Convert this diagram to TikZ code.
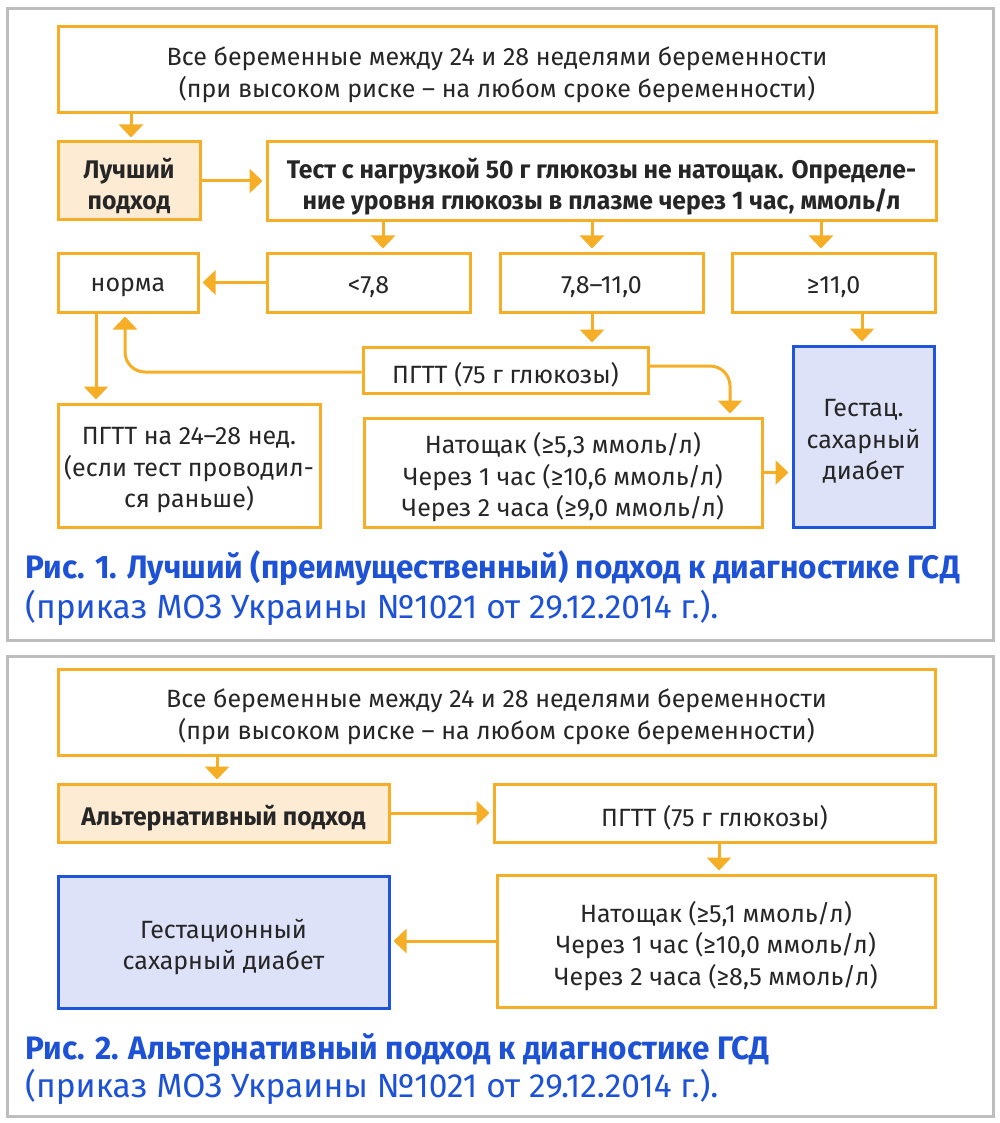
\documentclass[tikz,border=0pt]{standalone}
\usepackage{fontspec}
\setmainfont{Fira Sans}[BoldFeatures={FakeStretch=0.97}]
\usetikzlibrary{arrows.meta}
\definecolor{org}{HTML}{F5AE25}
\definecolor{peach}{HTML}{FDEBD3}
\definecolor{bluebd}{HTML}{1F55DC}
\definecolor{bluefill}{HTML}{DEE2F9}
\definecolor{capblue}{HTML}{1E52D6}
\definecolor{frame}{HTML}{BDBDBD}
\tikzset{
  box/.style={draw=org, line width=3pt, fill=white, inner sep=0pt},
  bestbox/.style={box, fill=peach},
  gestbox/.style={box, draw=bluebd, fill=bluefill},
  txt/.style={align=center, inner sep=0pt, text=black!85, font=\fontsize{25}{31.5}\selectfont},
  txtb/.style={txt, font=\fontsize{25.5}{31.5}\selectfont\bfseries},
  arr/.style={draw=org, line width=3pt, -{Triangle[width=24pt,length=13pt]}, shorten >=3pt},
  panel/.style={draw=frame, line width=3pt},
  caption/.style={anchor=base west, inner sep=0pt, text=capblue, font=\fontsize{33.5}{38}\selectfont},
  captionb/.style={caption, font=\fontsize{32.5}{38}\selectfont\bfseries}
}
% #1 box style, #2 name, #3 x, #4 y, #5 width, #6 height, #7 text style, #8 text
\newcommand\mybox[8]{%
  \node[#1, minimum width=#5pt, minimum height=#6pt] (#2) at (#3,#4) {};
  \node[#7] (#2-t) at ([yshift=-5pt]#2.center) {#8};}
\begin{document}
\begin{tikzpicture}[x=1pt,y=-1pt]
\useasboundingbox (0,0) rectangle (1000,1123);
\fill[white] (0,0) rectangle (1000,1123);
% panels
\draw[panel] (7,9) rectangle (993,640);
\draw[panel] (7,656) rectangle (993,1116);

% ---------- Figure 1 ----------
\mybox{box}{top}{497}{70}{878}{86}{txt}
  {Все беременные между 24 и 28 неделями беременности\\(при высоком риске – на любом сроке беременности)}
\mybox{bestbox}{best}{129}{181}{142}{78}{txtb}{Лучший\\подход}
\mybox{box}{test}{601.5}{181.5}{669}{79}{txtb}
  {Тест с нагрузкой 50 г глюкозы не натощак. Определе-\\ние уровня глюкозы в плазме через 1 час, ммоль/л}
\mybox{box}{norma}{128}{282.5}{140}{59}{txt}{норма}
\mybox{box}{lt}{368.5}{282.5}{203}{59}{txt}{<7,8}
\mybox{box}{mid}{601.5}{282.5}{203}{59}{txt}{7,8–11,0}
\mybox{box}{ge}{833.5}{282.5}{203}{59}{txt}{≥11,0}
\mybox{box}{p24}{189}{465.5}{262}{123}{txt}
  {ПГТТ на 24–28 нед.\\(если тест проводил-\\ся раньше)}
\mybox{box}{pg1}{505.5}{370}{285}{46}{txt}{ПГТТ (75 г глюкозы)}
\mybox{box}{nat1}{563}{472.5}{398}{109}{txt}
  {Натощак (≥5,3 ммоль/л)\\Через 1 час (≥10,6 ммоль/л)\\Через 2 часа (≥9,0 ммоль/л)}
\mybox{gestbox}{gest1}{863.5}{436.5}{141}{181}{txt}
  {Гестац.\\сахарный\\диабет}

\coordinate (xa) at (131,0);
\coordinate (xb) at (383,0);
\coordinate (xc) at (592,0);
\coordinate (xd) at (821,0);
\coordinate (xe) at (96,0);
\coordinate (xf) at (125,0);
\coordinate (xg) at (730,0);
\coordinate (xh) at (862,0);

\draw[arr] (top.south -| xa) -- (best.north -| xa);
\draw[arr] (best.east) -- (test.west |- best.east);
\draw[arr] (test.south -| xb) -- (lt.north -| xb);
\draw[arr] (test.south -| xc) -- (mid.north -| xc);
\draw[arr] (test.south -| xd) -- (ge.north -| xd);
\draw[arr] (lt.west) -- (norma.east);
\draw[arr] (norma.south -| xe) -- (p24.north -| xe);
\draw[arr] (mid.south -| xc) -- (pg1.north -| xc);
\draw[arr, rounded corners=20pt] ([yshift=-2pt]pg1.west) -| (norma.south -| xf);
\draw[arr, rounded corners=20pt] ([yshift=4pt]pg1.east) -| (nat1.north -| xg);
\draw[arr] (nat1.east) -- (gest1.west |- nat1.east);
\draw[arr] (ge.south -| xh) -- (gest1.north -| xh);

\node[captionb] (cap1a) at (25,578) {Рис. 1. Лучший (преимущественный) подход к диагностике ГСД};
\node[caption] (cap1b) at (25,618) {(приказ МОЗ Украины №1021 от 29.12.2014 г.).};

% ---------- Figure 2 ----------
\mybox{box}{top2}{496.5}{712}{877}{86}{txt}
  {Все беременные между 24 и 28 неделями беременности\\(при высоком риске – на любом сроке беременности)}
\mybox{bestbox}{alt}{223.5}{813}{331}{58}{txtb}{Альтернативный подход}
\mybox{box}{pg2}{714.5}{813}{441}{58}{txt}{ПГТТ (75 г глюкозы)}
\mybox{box}{nat2}{716}{941}{438}{132}{txt}
  {Натощак (≥5,1 ммоль/л)\\Через 1 час (≥10,0 ммоль/л)\\Через 2 часа (≥8,5 ммоль/л)}
\mybox{gestbox}{gest2}{223.5}{942}{331}{132}{txt}
  {Гестационный\\сахарный диабет}

\coordinate (xi) at (217,0);
\coordinate (xj) at (719,0);
\draw[arr] (top2.south -| xi) -- (alt.north -| xi);
\draw[arr] (alt.east) -- (pg2.west |- alt.east);
\draw[arr] (pg2.south -| xj) -- (nat2.north -| xj);
\draw[arr] (nat2.west) -- (gest2.east |- nat2.west);

\node[captionb] (cap2a) at (25,1059) {Рис. 2. Альтернативный подход к диагностике ГСД};
\node[caption] (cap2b) at (25,1097) {(приказ МОЗ Украины №1021 от 29.12.2014 г.).};
\end{tikzpicture}
\end{document}
